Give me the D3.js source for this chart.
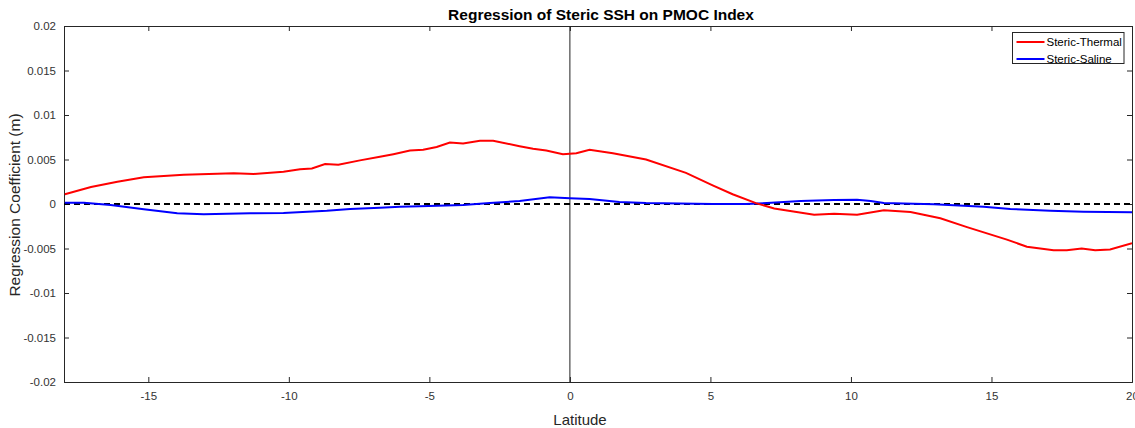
<!DOCTYPE html>
<html>
<head>
<meta charset="utf-8">
<script src="https://cdn.jsdelivr.net/npm/d3@7"></script>
<style>
  body { margin: 0; background: #fff; }
  svg { font-family: "Liberation Sans", Arial, sans-serif; }
</style>
</head>
<body>
<svg id="chart" width="1135" height="428"></svg>
<script>
// latitude / value pairs
var thermalLat = [-17.97, -17.04, -16.1, -15.16, -13.74, -11.96, -11.25, -10.19, -9.6, -9.18,
    -8.71, -8.24, -7.47, -6.76, -6.28, -5.69, -5.22, -4.74, -4.27, -3.8, -3.2, -2.73, -1.79,
    -1.31, -0.84, -0.25, 0.23, 0.7, 1.53, 2.71, 4.13, 5.08, 5.79, 6.62, 7.27, 8.69, 9.4, 10.22,
    11.17, 12.12, 13.18, 14.13, 15.55, 16.26, 17.21, 17.68, 18.21, 18.69, 19.22, 20];
var thermalVal = [0.0011, 0.0019, 0.0025, 0.0030, 0.0033, 0.00345, 0.00337, 0.00363, 0.0039, 0.0040,
    0.0045, 0.0044, 0.0049, 0.0053, 0.0056, 0.0060, 0.0061, 0.0064, 0.0069, 0.0068, 0.0071, 0.0071, 0.0065,
    0.0062, 0.0060, 0.0056, 0.0057, 0.0061, 0.0057, 0.0050, 0.0035, 0.0021, 0.0011, 0.0001, -0.0005, -0.0012, -0.0011, -0.0012,
    -0.0007, -0.0009, -0.0016, -0.0026, -0.0040, -0.0048, -0.0052, -0.0052, -0.0050, -0.0052, -0.0051, -0.0044];

var salineLat = [-17.97, -17.29, -16.34, -15.16, -13.97, -13.03, -11.37, -10.19, -8.65, -7.82,
    -6.76, -6.05, -5.34, -3.8, -2.85, -1.79, -0.72, 0, 0.7, 1.76, 2.71, 5.08, 6.26, 7.01, 8.21,
    9.4, 10.22, 10.7, 11.17, 12.95, 14.72, 15.67, 17.09, 18.27, 20];
var salineVal = [0.00015, 0.00015, -0.0001, -0.0006, -0.00105, -0.00116, -0.00105, -0.0010, -0.00075, -0.00055,
    -0.00042, -0.00032, -0.00025, -0.0001, 0.0001, 0.00034, 0.00075, 0.00064, 0.00056, 0.00022, 0.0001, 0.0, 0.0, 0.0001, 0.00034,
    0.00045, 0.00048, 0.00034, 0.0001, -0.00003, -0.0003, -0.00056, -0.00075, -0.00087, -0.00093];

var xTicks = [-15, -10, -5, 0, 5, 10, 15, 20];
var yTicks = [-0.02, -0.015, -0.01, -0.005, 0, 0.005, 0.01, 0.015, 0.02];
var seriesNames = ["Steric-Thermal", "Steric-Saline"];
var seriesColors = ["#ff0000", "#0000ff"];

var margin = {top: 26, right: 3, bottom: 46, left: 64};
var width = 1135 - margin.left - margin.right;
var height = 428 - margin.top - margin.bottom;

var svg = d3.select("#chart");
var g = svg.append("g").attr("transform", "translate(" + margin.left + "," + margin.top + ")");

var x = d3.scaleLinear().domain([-18, 20]).range([0, width]);
var y = d3.scaleLinear().domain([-0.02, 0.02]).range([height, 0]);

var axisColor = "#262626";
var tickLen = 5;

// axes (ticks pointing inward, box on all sides)
var xAxis = g.append("g").attr("transform", "translate(0," + height + ")")
    .call(d3.axisBottom(x).tickValues(xTicks).tickSize(-tickLen).tickPadding(10)
        .tickFormat(function (d) { return d; }));
var yAxis = g.append("g")
    .call(d3.axisLeft(y).tickValues(yTicks).tickSize(-tickLen).tickPadding(8)
        .tickFormat(function (d) { return d; }));
var xTop = g.append("g")
    .call(d3.axisTop(x).tickValues(xTicks).tickSize(-tickLen).tickFormat(""));
var yRight = g.append("g").attr("transform", "translate(" + width + ",0)")
    .call(d3.axisRight(y).tickValues(yTicks).tickSize(-tickLen).tickFormat(""));

[xAxis, yAxis, xTop, yRight].forEach(function (a) {
    a.select(".domain").attr("stroke", axisColor).attr("stroke-width", 1);
    a.selectAll(".tick line").attr("stroke", axisColor);
    a.selectAll("text").attr("fill", "#333").style("font-size", "11.5px")
        .style("font-family", "'Liberation Sans', Arial, sans-serif");
});
xAxis.selectAll(".tick").filter(function (d) { return d === 20; }).select("text")
    .attr("dx", 0);

// zero lines
g.append("line")
    .attr("x1", x(0)).attr("x2", x(0))
    .attr("y1", 0).attr("y2", height)
    .attr("stroke", "#222").attr("stroke-width", 1);

g.append("line")
    .attr("x1", 0).attr("x2", width)
    .attr("y1", y(0)).attr("y2", y(0))
    .attr("stroke", "#000").attr("stroke-width", 2)
    .attr("stroke-dasharray", "6,4");

var line = d3.line()
    .x(function (d) { return x(d[0]); })
    .y(function (d) { return y(d[1]); });

var clip = svg.append("defs").append("clipPath").attr("id", "clip")
    .append("rect").attr("width", width).attr("height", height);

var plot = g.append("g").attr("clip-path", "url(#clip)");

plot.append("path")
    .datum(d3.zip(salineLat, salineVal))
    .attr("fill", "none")
    .attr("stroke", seriesColors[1])
    .attr("stroke-width", 2)
    .attr("d", line);

plot.append("path")
    .datum(d3.zip(thermalLat, thermalVal))
    .attr("fill", "none")
    .attr("stroke", seriesColors[0])
    .attr("stroke-width", 2)
    .attr("d", line);

// title and axis labels
svg.append("text")
    .attr("x", margin.left + width / 2 + 3)
    .attr("y", 20)
    .attr("text-anchor", "middle")
    .style("font-weight", "bold")
    .style("font-size", "15.5px")
    .attr("fill", "#000")
    .text("Regression of Steric SSH on PMOC Index");

svg.append("text")
    .attr("x", margin.left + width / 2 - 18)
    .attr("y", 425)
    .attr("text-anchor", "middle")
    .style("font-size", "15px")
    .attr("fill", "#262626")
    .text("Latitude");

svg.append("text")
    .attr("transform", "translate(20," + (margin.top + height / 2 + 1) + ") rotate(-90)")
    .attr("text-anchor", "middle")
    .style("font-size", "15.5px")
    .attr("fill", "#262626")
    .text("Regression Coefficient (m)");

// legend
var legend = svg.append("g").attr("transform", "translate(1012.5,32.5)");
legend.append("rect")
    .attr("width", 111.5).attr("height", 31)
    .attr("fill", "#fff").attr("stroke", "#262626").attr("stroke-width", 1);

var entry = legend.selectAll(".entry")
    .data(seriesNames)
    .enter()
    .append("g")
    .attr("class", "entry")
    .attr("transform", function (d, i) { return "translate(0," + (9.5 + i * 17) + ")"; });

entry.append("line")
    .attr("x1", 4).attr("x2", 32)
    .attr("stroke", function (d, i) { return seriesColors[i]; })
    .attr("stroke-width", 2);

entry.append("text")
    .attr("x", 34)
    .attr("dy", "0.35em")
    .style("font-size", "11.5px")
    .attr("fill", "#000")
    .text(function (d) { return d; });
</script>
</body>
</html>
